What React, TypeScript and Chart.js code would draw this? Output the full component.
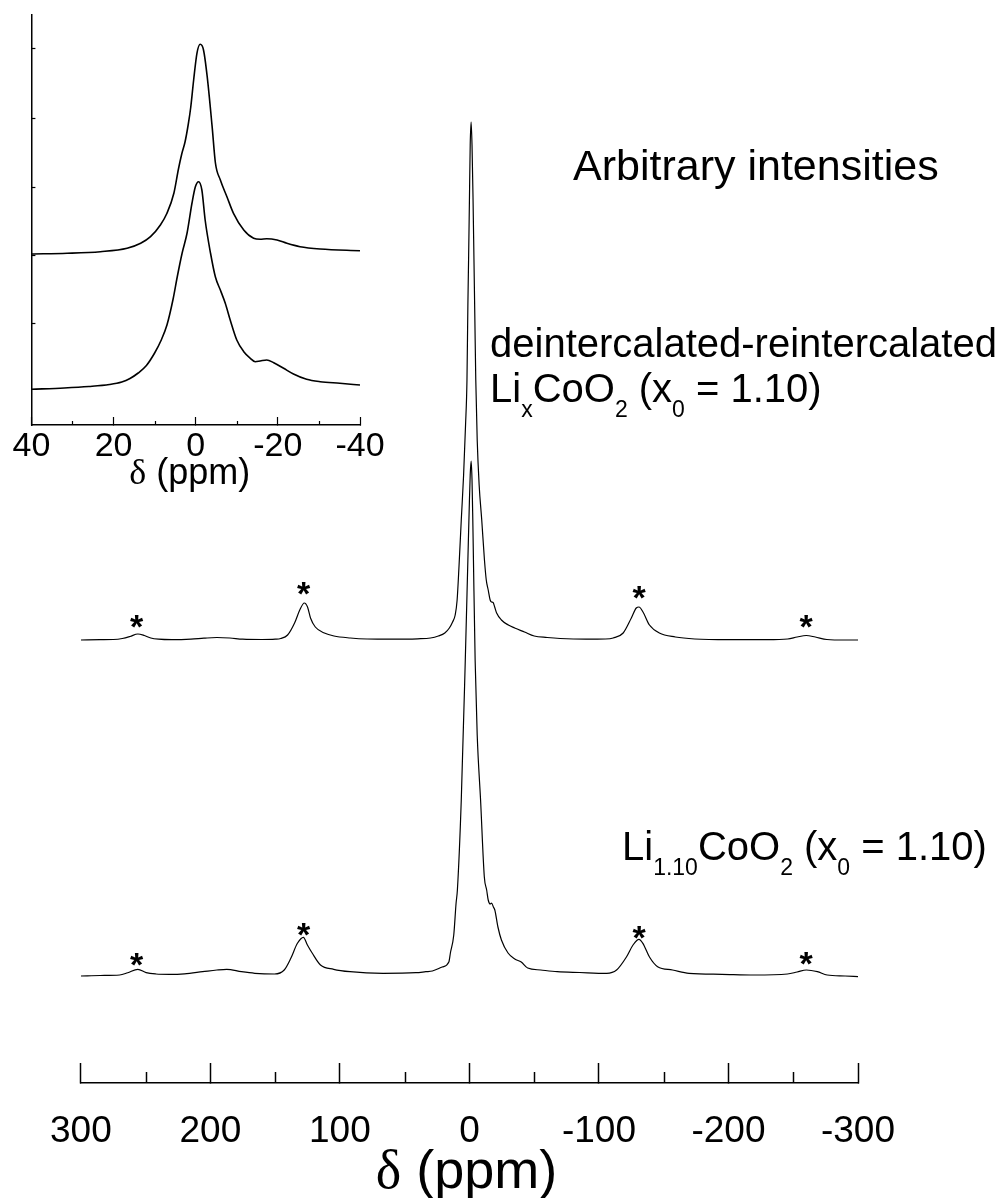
import React, { useEffect, useRef } from 'react';
import { Chart, registerables } from 'chart.js';

Chart.register(...registerables);

const FONT = '"Liberation Sans", Arial, Helvetica, sans-serif';
const SERIF = '"Liberation Serif", "Times New Roman", serif';

// ---------- main spectra (chemical shift in ppm, arbitrary intensity) ----------
const upperPpm = [300, 285, 275, 268, 262, 256, 251, 246, 240, 230, 215, 205, 195, 185, 175, 160, 150, 145.7, 140.4, 135, 131, 127.5, 125, 122.7, 119, 112, 104.6, 92, 79, 60, 40, 30, 24, 19, 15.5, 13, 11, 9.5, 8, 6.3, 4.5, 3, 1.9, 1.2, 0.6, 0, -0.6, -1.3, -2, -2.8, -3.5, -4.2, -4.9, -6, -7.5, -9.5, -11.6, -13, -14.5, -16, -17, -18.3, -19.5, -21, -24.7, -30, -34.9, -42.5, -50, -60, -70, -90, -105, -111, -118.7, -125, -128.8, -130.9, -134, -139, -146.6, -159, -174, -200, -230, -245.7, -253, -260, -267, -276, -290, -300];
const upperInt = [0, 0.3, 0.5, 1.5, 3.5, 6, 4.5, 2, 0.8, 0.3, 0.8, 1.8, 2.5, 2, 0.8, 0.5, 0.8, 1.5, 5, 17, 30, 37, 33, 22, 13, 7, 4, 2, 1, 0.8, 1.2, 2, 4, 7, 12, 18, 25, 40, 75, 120, 165, 215, 260, 335, 385, 440, 495, 518, 495, 440, 380, 320, 260, 200, 155, 120, 80, 60, 50, 40, 38, 37.5, 33, 27, 20, 15, 12, 8, 4, 2.5, 1.5, 0.8, 1, 2, 7, 22, 32, 33, 28, 15, 7, 3, 1, 0.3, 0.3, 1, 3, 4.5, 3, 0.5, 0, 0];
const upperOffset = 335;

const lowerPpm = [300, 285, 270, 263.8, 256, 249.6, 242, 231.8, 220, 206, 195, 187.4, 176, 165.7, 150.5, 143, 137.9, 132.8, 128.2, 125.1, 121.3, 115, 104.8, 92.2, 66.7, 41.3, 33.7, 28.6, 21, 15.9, 14.7, 12.1, 10.3, 9.3, 6.3, 3.2, 1.2, 0.2, -0.6, -1.3, -2, -2.6, -3.1, -4.4, -6, -8.6, -11.5, -13.3, -14.5, -16, -17.1, -18.5, -19.6, -22, -24.7, -29.8, -35, -40, -45, -55, -67.8, -85, -106, -113.6, -121.2, -126.3, -130.9, -133.9, -139, -145.3, -156.8, -169.5, -194.9, -220, -245.6, -253, -260.2, -268.6, -276.2, -290, -300];
const lowerInt = [-1, -0.5, 0, 2.3, 5.7, 2.3, 1, 0.7, 1.2, 3.3, 5, 5.7, 3.3, 1.7, 1, 5, 16.7, 31.7, 37.7, 30, 21.7, 10, 5.7, 3.3, 1.7, 2.3, 3.3, 4, 8, 13, 22, 40, 72, 85, 175, 315, 415, 465, 500, 514, 495, 455, 415, 315, 240, 175, 98, 85, 75, 71, 72, 68, 65, 48, 35, 22, 16, 13, 7, 5, 3.3, 2.5, 1.7, 5, 18, 30, 35.7, 31.7, 18, 8.3, 5, 1.7, 0.7, 0, 1, 3, 5, 3.3, 0, -1, -1.7];
const lowerOffset = 0;

const mainTicks = [300, 200, 100, 0, -100, -200, -300];
const mainMinorTicks = [250, 150, 50, -50, -150, -250];

// spinning sidebands marked with asterisks
const sidebandPpm = [257, 128, -131, -260];
const upperStarLevel = [22.5, 55, 51, 22.5];
const lowerStarLevel = [19, 49, 46, 20];

// ---------- inset (zoom on the central line) ----------
const insetUpperPpm = [40, 31.3, 23.2, 16.7, 13.4, 11, 8.6, 7, 5.3, 4.2, 3.4, 2.6, 1.8, 1.2, 0.5, -0.3, -1.1, -1.9, -2.8, -4, -4.8, -6, -7.6, -9.2, -11.7, -14.1, -15.7, -17.3, -19.8, -22.2, -25.4, -30.3, -40];
const insetUpperInt = [171, 171.7, 173.3, 176.7, 181.7, 188.3, 200, 211.7, 232, 256, 271, 283, 301, 318, 345, 371.7, 380.7, 375, 348.3, 298.3, 262, 245, 228.3, 211.7, 195, 186.7, 185.7, 186.3, 185, 181.7, 178.3, 176, 174.3];
const insetLowerPpm = [40, 32, 26, 21, 18, 16, 14, 12, 10, 8.5, 7, 5.5, 4.5, 3.3, 2.1, 0.9, 0.1, -0.7, -1.5, -2.3, -3.6, -4.8, -6, -7.2, -8.4, -10, -11.7, -13.3, -14.5, -15.7, -17.3, -19, -21.4, -23.8, -27, -30.3, -35.1, -40];
const insetLowerInt = [35.7, 37, 38.5, 40.5, 43, 46.5, 52, 59.5, 72, 84, 100, 126, 148, 172, 192, 222, 238, 243.3, 235, 205, 172, 148, 135, 121.7, 105, 85, 73.3, 66.7, 63.3, 64, 65, 62.3, 56.7, 51, 45.7, 43.3, 41.7, 40];
const insetTicks = [40, 20, 0, -20, -40];
const insetMinorTicks = [30, 10, -10, -30];
const insetYTicks = [376, 307, 238, 170, 102];

// ---------- annotation texts ----------
type Run = { t: string; sub?: boolean; serif?: boolean };
const labelArbitrary: Run[] = [{ t: 'Arbitrary intensities' }];
const labelTreated1: Run[] = [{ t: 'deintercalated-reintercalated' }];
const labelTreated2: Run[] = [{ t: 'Li' }, { t: 'x', sub: true }, { t: 'CoO' }, { t: '2', sub: true }, { t: ' (x' }, { t: '0', sub: true }, { t: ' = 1.10)' }];
const labelPristine: Run[] = [{ t: 'Li' }, { t: '1.10', sub: true }, { t: 'CoO' }, { t: '2', sub: true }, { t: ' (x' }, { t: '0', sub: true }, { t: ' = 1.10)' }];
const axisTitle: Run[] = [{ t: 'δ', serif: true }, { t: ' (ppm)' }];

const W = 997;
const H = 1198;
const AXIS_Y = 1083;

function runFont(r: Run, size: number) {
  const s = r.sub ? Math.round(size * 0.58) : size;
  return `${s}px ${r.serif ? SERIF : FONT}`;
}

function measureRuns(ctx: CanvasRenderingContext2D, runs: Run[], size: number) {
  let w = 0;
  for (const r of runs) {
    ctx.font = runFont(r, size);
    w += ctx.measureText(r.t).width;
  }
  return w;
}

function drawRuns(ctx: CanvasRenderingContext2D, runs: Run[], x: number, y: number, size: number, center = false) {
  let cx = center ? x - measureRuns(ctx, runs, size) / 2 : x;
  ctx.textAlign = 'left';
  ctx.textBaseline = 'alphabetic';
  for (const r of runs) {
    ctx.font = runFont(r, size);
    ctx.fillText(r.t, cx, r.sub ? y + Math.round(size * 0.37) : y);
    cx += ctx.measureText(r.t).width;
  }
}

const mainDecor = {
  id: 'mainDecor',
  afterDraw(chart: any) {
    const { ctx, scales } = chart;
    const x = scales.x;
    const y = scales.y;
    ctx.save();
    ctx.strokeStyle = '#000';
    ctx.fillStyle = '#000';
    ctx.lineWidth = 1.5;
    // minor ticks (pointing up)
    for (const v of mainMinorTicks) {
      const px = Math.round(x.getPixelForValue(v)) + 0.5;
      ctx.beginPath();
      ctx.moveTo(px, x.top);
      ctx.lineTo(px, x.top - 11);
      ctx.stroke();
    }
    // asterisks over the spinning sidebands
    const starSize = 34;
    ctx.font = `bold ${starSize}px ${FONT}`;
    ctx.textAlign = 'center';
    ctx.textBaseline = 'alphabetic';
    sidebandPpm.forEach((p, i) => {
      const px = x.getPixelForValue(p);
      const pu = y.getPixelForValue(upperStarLevel[i] + upperOffset);
      const pl = y.getPixelForValue(lowerStarLevel[i] + lowerOffset);
      ctx.fillText('*', px, pu + starSize * 0.6);
      ctx.fillText('*', px, pl + starSize * 0.6);
    });
    // axis title
    drawRuns(ctx, axisTitle, (x.left + x.right) / 2 - 3, 1188, 54, true);
    // labels
    drawRuns(ctx, labelArbitrary, 573, 180, 43);
    drawRuns(ctx, labelTreated1, 490, 357, 40);
    drawRuns(ctx, labelTreated2, 490, 402, 40);
    drawRuns(ctx, labelPristine, 622, 860, 40);
    ctx.restore();
  },
};

const insetDecor = {
  id: 'insetDecor',
  afterDraw(chart: any) {
    const { ctx, scales } = chart;
    const x = scales.x;
    ctx.save();
    ctx.strokeStyle = '#000';
    ctx.fillStyle = '#000';
    ctx.lineWidth = 1.2;
    for (const v of insetMinorTicks) {
      const px = Math.round(x.getPixelForValue(v)) + 0.5;
      ctx.beginPath();
      ctx.moveTo(px, x.top);
      ctx.lineTo(px, x.top - 4);
      ctx.stroke();
    }
    drawRuns(ctx, axisTitle, (x.left + x.right) / 2 - 6, 484, 36, true);
    ctx.restore();
  },
};

function MainChart() {
  const ref = useRef<HTMLCanvasElement>(null);
  useEffect(() => {
    if (!ref.current) return;
    const chart = new Chart(ref.current, {
      type: 'line',
      data: {
        datasets: [
          {
            label: 'deintercalated-reintercalated',
            data: upperPpm.map((p, i) => ({ x: p, y: upperInt[i] + upperOffset })),
          },
          {
            label: 'Li1.10CoO2',
            data: lowerPpm.map((p, i) => ({ x: p, y: lowerInt[i] + lowerOffset })),
          },
        ],
      },
      options: {
        responsive: false,
        animation: false,
        devicePixelRatio: 1,
        layout: { padding: { left: 70, right: W - 858, top: 0, bottom: 0 } },
        plugins: { legend: { display: false }, tooltip: { enabled: false } },
        elements: {
          point: { radius: 0 },
          line: { borderWidth: 1.2, borderColor: '#000', cubicInterpolationMode: 'monotone', fill: false },
        },
        scales: {
          x: {
            type: 'linear',
            reverse: true,
            min: -300,
            max: 300,
            afterBuildTicks: (s: any) => {
              s.ticks = mainTicks.map((v) => ({ value: v }));
            },
            afterFit: (s: any) => {
              s.height = H - AXIS_Y;
            },
            ticks: {
              font: { family: FONT, size: 37, lineHeight: 1 },
              color: '#000',
              padding: 50,
              maxRotation: 0,
              autoSkip: false,
              callback: (v: any) => String(v),
            },
            grid: { drawOnChartArea: false, drawTicks: true, tickLength: -20, tickWidth: 1.5, tickColor: '#000' },
            border: { display: true, color: '#000', width: 1.5 },
            title: { display: false },
          },
          y: { display: false, min: -(AXIS_Y - 975), max: 975 },
        },
      } as any,
      plugins: [mainDecor],
    });
    return () => chart.destroy();
  }, []);
  return <canvas ref={ref} width={W} height={H} style={{ position: 'absolute', left: 0, top: 0, width: W, height: H }} />;
}

function InsetChart() {
  const ref = useRef<HTMLCanvasElement>(null);
  useEffect(() => {
    if (!ref.current) return;
    const chart = new Chart(ref.current, {
      type: 'line',
      data: {
        datasets: [
          { label: 'upper', data: insetUpperPpm.map((p, i) => ({ x: p, y: insetUpperInt[i] })) },
          { label: 'lower', data: insetLowerPpm.map((p, i) => ({ x: p, y: insetLowerInt[i] })) },
        ],
      },
      options: {
        responsive: false,
        animation: false,
        devicePixelRatio: 1,
        layout: { padding: { left: 31, right: 40, top: 15, bottom: 0 } },
        plugins: { legend: { display: false }, tooltip: { enabled: false } },
        elements: {
          point: { radius: 0 },
          line: { borderWidth: 1.6, borderColor: '#000', cubicInterpolationMode: 'monotone', fill: false },
        },
        scales: {
          x: {
            type: 'linear',
            reverse: true,
            min: -40,
            max: 40,
            afterBuildTicks: (s: any) => {
              s.ticks = insetTicks.map((v) => ({ value: v }));
            },
            afterFit: (s: any) => {
              s.height = 75;
            },
            ticks: {
              font: { family: FONT, size: 34, lineHeight: 1 },
              color: '#000',
              padding: 12.5,
              maxRotation: 0,
              autoSkip: false,
              callback: (v: any) => String(v),
            },
            grid: { drawOnChartArea: false, drawTicks: true, tickLength: -8, tickWidth: 1.2, tickColor: '#000' },
            border: { display: true, color: '#000', width: 1.5 },
            title: { display: false },
          },
          y: {
            type: 'linear',
            min: 0,
            max: 410,
            afterBuildTicks: (s: any) => {
              s.ticks = insetYTicks.map((v) => ({ value: v }));
            },
            afterFit: (s: any) => {
              s.width = 0;
            },
            ticks: { display: false },
            grid: { drawOnChartArea: false, drawTicks: true, tickLength: -4, tickWidth: 1.2, tickColor: '#000' },
            border: { display: true, color: '#000', width: 1.5 },
          },
        },
      } as any,
      plugins: [insetDecor],
    });
    return () => chart.destroy();
  }, []);
  return <canvas ref={ref} width={400} height={500} style={{ position: 'absolute', left: 0, top: 0, width: 400, height: 500 }} />;
}

export default function App() {
  return (
    <div style={{ position: 'absolute', left: 0, top: 0, width: W, height: H, background: '#fff' }}>
      <MainChart />
      <InsetChart />
    </div>
  );
}
